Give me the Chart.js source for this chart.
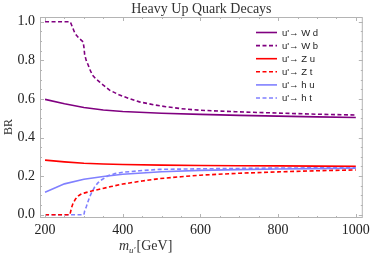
<!DOCTYPE html>
<html>
<head>
<meta charset="utf-8">
<script src="https://cdn.jsdelivr.net/npm/chart.js@4"></script>
<style>
  html, body { margin: 0; padding: 0; background: #fff; }
  #wrap { width: 374px; height: 255px; position: relative; }
</style>
</head>
<body>
<div id="wrap"><canvas id="chart"></canvas></div>
<script>
// Heavy up quark branching ratios vs mass
const massWd = [200, 250, 300, 350, 400, 500, 600, 700, 800, 900, 1000]
const brWd = [0.598, 0.575, 0.556, 0.543, 0.535, 0.526, 0.52, 0.515, 0.511, 0.507, 0.504]

const massWb = [200, 265, 270, 277, 283, 288, 293, 298, 300, 302, 306, 311, 316, 322, 330, 340, 350, 366, 392, 420, 443, 480, 511, 550, 596, 650, 690, 750, 800, 900, 1000]
const brWb = [1.0, 1.0, 0.975, 0.94, 0.925, 0.914, 0.905, 0.896, 0.87, 0.83, 0.8, 0.776, 0.75, 0.724, 0.706, 0.689, 0.672, 0.646, 0.62, 0.6, 0.585, 0.57, 0.56, 0.55, 0.542, 0.537, 0.534, 0.53, 0.527, 0.521, 0.517]

const massZu = [200, 250, 300, 350, 400, 500, 600, 700, 800, 900, 1000]
const brZu = [0.283, 0.274, 0.267, 0.263, 0.26, 0.257, 0.255, 0.254, 0.253, 0.252, 0.251]

const massZt = [200, 264, 268, 272, 278, 285, 291, 296, 300, 320, 340, 370, 400, 450, 494, 550, 600, 700, 800, 900, 1000]
const brZt = [0, 0, 0.035, 0.059, 0.08, 0.097, 0.105, 0.11, 0.112, 0.123, 0.132, 0.146, 0.159, 0.175, 0.187, 0.197, 0.205, 0.215, 0.222, 0.228, 0.232]

const massHu = [200, 250, 300, 350, 400, 500, 600, 700, 800, 900, 1000]
const brHu = [0.116, 0.16, 0.184, 0.198, 0.21, 0.223, 0.23, 0.234, 0.237, 0.239, 0.241]

const massHt = [200, 300, 302, 306, 310, 315, 320, 328, 336, 345, 362, 380, 400, 443, 494, 600, 700, 800, 900, 1000]
const brHt = [0, 0, 0.02, 0.04, 0.065, 0.093, 0.115, 0.145, 0.165, 0.18, 0.202, 0.213, 0.22, 0.228, 0.235, 0.238, 0.24, 0.242, 0.243, 0.244]

const seriesLabels = ["u'\u2192 W d", "u'\u2192 W b", "u'\u2192 Z u", "u'\u2192 Z t", "u'\u2192 h u", "u'\u2192 h t"]

const xTicks = [200, 400, 600, 800, 1000]
const yTicks = [0, 0.2, 0.4, 0.6, 0.8, 1.0]

const PURPLE = '#800080'
const RED = '#ff0000'
const BLUE = '#8080ff'
const DASH = [4, 2.5]
const FRAME = '#b4b4b4'

function zip(xs, ys) {
  return xs.map((x, i) => ({ x, y: ys[i] }))
}

function makeSet(label, xs, ys, color, dashed) {
  return {
    label,
    data: zip(xs, ys),
    borderColor: color,
    backgroundColor: color,
    borderWidth: 1.6,
    borderDash: dashed ? DASH : [],
    pointRadius: 0,
    tension: 0,
    fill: false,
  }
}

// Frame with inward ticks on all four sides, title, axis titles and an in-plot legend
const decoPlugin = {
  id: 'deco',
  afterDraw(chart) {
    const { ctx, chartArea: a, scales } = chart
    const xs = scales.x, ys = scales.y
    ctx.save()

    ctx.strokeStyle = FRAME
    ctx.lineWidth = 1
    ctx.strokeRect(a.left + 0.5, a.top + 0.5, a.right - a.left - 1, a.bottom - a.top - 1)

    ctx.beginPath()
    for (let v = 200; v <= 1000; v += 50) {
      const px = Math.round(xs.getPixelForValue(v)) + 0.5
      const len = v % 200 === 0 ? 4 : 2
      ctx.moveTo(px, a.bottom); ctx.lineTo(px, a.bottom - len)
      ctx.moveTo(px, a.top); ctx.lineTo(px, a.top + len)
    }
    for (let k = 0; k <= 20; k++) {
      const v = k * 0.05
      const py = Math.round(ys.getPixelForValue(v)) + 0.5
      const len = k % 4 === 0 ? 4 : 2
      ctx.moveTo(a.left, py); ctx.lineTo(a.left + len, py)
      ctx.moveTo(a.right, py); ctx.lineTo(a.right - len, py)
    }
    ctx.stroke()

    // title
    ctx.fillStyle = '#333'
    ctx.font = '14px "Liberation Serif", serif'
    ctx.textAlign = 'center'
    ctx.textBaseline = 'alphabetic'
    ctx.fillText('Heavy Up Quark Decays', (a.left + a.right) / 2, 13)

    // y title
    ctx.save()
    ctx.translate(12, 127)
    ctx.rotate(-Math.PI / 2)
    ctx.font = '12px "Liberation Serif", serif'
    ctx.fillText('BR', 0, 0)
    ctx.restore()

    // x title: m_{u'}[GeV]
    ctx.textAlign = 'left'
    let x0 = 119
    const base = 250
    ctx.font = 'italic 14px "Liberation Serif", serif'
    ctx.fillText('m', x0, base)
    x0 += ctx.measureText('m').width
    ctx.font = 'italic 9px "Liberation Serif", serif'
    ctx.fillText("u'", x0, base + 3)
    x0 += ctx.measureText("u'").width + 1
    ctx.font = '14px "Liberation Serif", serif'
    ctx.fillText('[GeV]', x0, base)

    // legend
    ctx.font = '9.5px "Liberation Sans", Arial, sans-serif'
    ctx.textBaseline = 'middle'
    chart.data.datasets.forEach((ds, i) => {
      const y = 32.5 + i * 13.1
      ctx.strokeStyle = ds.borderColor
      ctx.lineWidth = 1.6
      ctx.setLineDash(ds.borderDash)
      ctx.beginPath()
      ctx.moveTo(256, y); ctx.lineTo(277, y)
      ctx.stroke()
      ctx.setLineDash([])
      ctx.fillStyle = '#222'
      ctx.fillText(ds.label, 282, y + 0.5)
    })

    ctx.restore()
  },
}

const ctx = document.getElementById('chart').getContext('2d')

new Chart(ctx, {
  type: 'line',
  data: {
    datasets: [
      makeSet(seriesLabels[0], massWd, brWd, PURPLE, false),
      makeSet(seriesLabels[1], massWb, brWb, PURPLE, true),
      makeSet(seriesLabels[2], massZu, brZu, RED, false),
      makeSet(seriesLabels[3], massZt, brZt, RED, true),
      makeSet(seriesLabels[4], massHu, brHu, BLUE, false),
      makeSet(seriesLabels[5], massHt, brHt, BLUE, true),
    ],
  },
  options: {
    responsive: true,
    maintainAspectRatio: false,
    animation: false,
    layout: { padding: { top: 17, right: 9, left: 0, bottom: 0 } },
    plugins: {
      legend: { display: false },
      title: { display: false },
      tooltip: { enabled: false },
    },
    scales: {
      x: {
        type: 'linear',
        min: 187,
        max: 1018,
        afterBuildTicks: (s) => { s.ticks = xTicks.map(v => ({ value: v })) },
        afterFit: (s) => { s.height = 37 },
        grid: { display: false, drawTicks: false },
        border: { display: false },
        ticks: {
          color: '#222',
          padding: 4,
          maxRotation: 0,
          font: { family: '"Liberation Serif", serif', size: 14 },
          callback: (v) => String(v),
        },
      },
      y: {
        type: 'linear',
        min: -0.017,
        max: 1.025,
        afterBuildTicks: (s) => { s.ticks = yTicks.map(v => ({ value: v })) },
        afterFit: (s) => { s.width = 40 },
        grid: { display: false, drawTicks: false },
        border: { display: false },
        ticks: {
          color: '#222',
          padding: 5,
          font: { family: '"Liberation Serif", serif', size: 14 },
          callback: (v) => Number(v).toFixed(1),
        },
      },
    },
  },
  plugins: [decoPlugin],
})
</script>
</body>
</html>
